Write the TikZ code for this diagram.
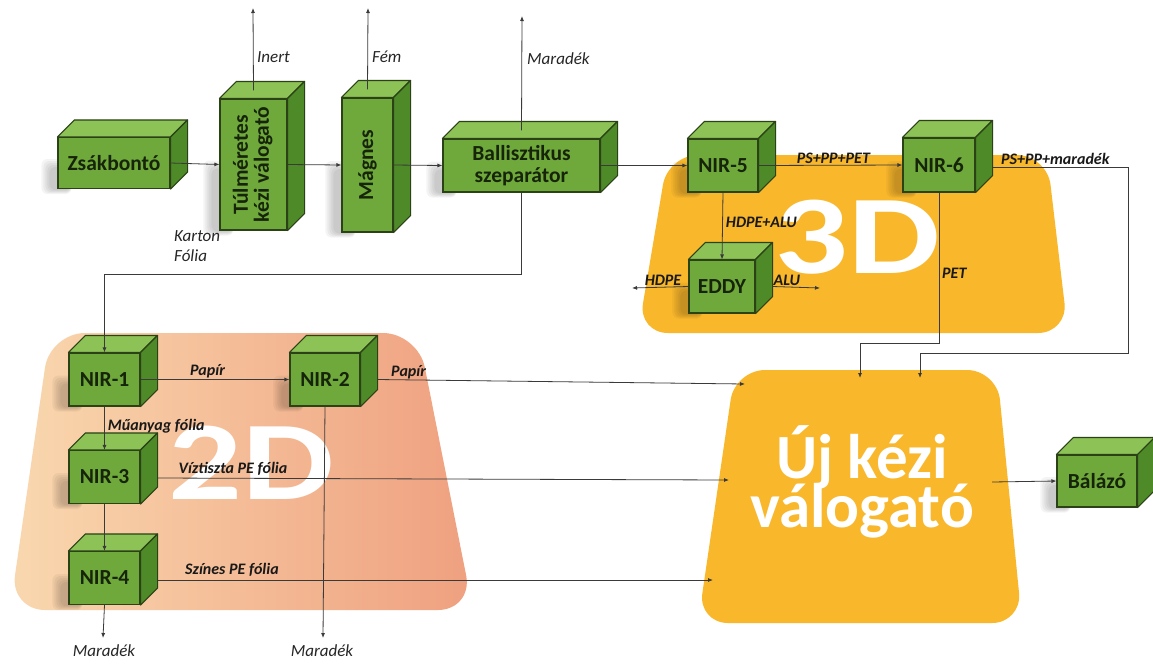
\documentclass[tikz,border=0pt]{standalone}
\usepackage{fontspec}
\setmainfont{Carlito}
\usetikzlibrary{arrows.meta,calc}
\definecolor{gfront}{HTML}{6FA93B}
\definecolor{gtop}{HTML}{8DC256}
\definecolor{gside}{HTML}{4E8A28}
\definecolor{gborder}{HTML}{2A4216}
\definecolor{gtext}{HTML}{16240A}
\definecolor{yel}{HTML}{F9B72C}
\definecolor{peachL}{HTML}{F9D8AF}
\definecolor{peachR}{HTML}{EFA07F}
\definecolor{linec}{HTML}{3A3A3A}
\pgfdeclarelayer{back}
\pgfdeclarelayer{mid}
\pgfsetlayers{back,mid,main}
\def\dd{17}
\tikzset{
  front/.style={draw=gborder, fill=gfront, line width=1.1pt, inner sep=0pt, align=center,
    font=\bfseries\fontsize{21.5}{24}\selectfont, text=gtext},
  topf/.style={draw=gborder, fill=gtop, line width=1.1pt, line join=round},
  sidef/.style={draw=gborder, fill=gside, line width=1.1pt, line join=round},
  conn/.style={draw=linec, line width=0.8pt},
  arr/.style={conn, -{Latex[length=5pt,width=4pt]}},
  lab/.style={font=\itshape\fontsize{17}{20}\selectfont, text=black!85, inner sep=1pt},
  blab/.style={font=\bfseries\itshape\fontsize{16}{18}\selectfont, text=black!90, inner sep=1pt},
  bigw/.style={text=white, font=\bfseries\fontsize{112}{112}\selectfont, inner sep=0pt},
  ujw/.style={text=white, font=\bfseries\fontsize{63}{50}\selectfont, inner sep=0pt}
}
\newcommand\greenbox[6]{%
  \node[front, minimum width=#4pt, minimum height=#5pt] (#1) at (#2,#3) {#6};
  \filldraw[topf] (#1.north west) -- ++(\dd,-\dd) -- ($(#1.north east)+(\dd,-\dd)$) -- (#1.north east) -- cycle;
  \filldraw[sidef] (#1.north east) -- ++(\dd,-\dd) -- ($(#1.south east)+(\dd,-\dd)$) -- (#1.south east) -- cycle;
  \begin{pgfonlayer}{mid}
    \foreach \k in {0,2,4,6,8}{
      \fill[black, opacity=0.045, rounded corners=6]
        ($(#1.west)+(-16+\k,-4+\k)$) rectangle ($(#1.south west)+(14,5-0.5*\k)$);
    }
  \end{pgfonlayer}
}
\begin{document}
\begin{tikzpicture}[x=1pt,y=-1pt]
\useasboundingbox (0,0) rectangle (1153,665);
\begin{pgfonlayer}{back}
\fill[white] (0,0) rectangle (1153,665);
% background regions
\fill[yel, rounded corners=30] (668,155) -- (1047,155) -- (1068,333) -- (638,333) -- cycle;
\shade[left color=peachL, right color=peachR, rounded corners=35] (50,333) -- (418,333) -- (473,610) -- (10,610) -- cycle;
\fill[yel, rounded corners=30] (735,370) -- (997,370) -- (1022,623) -- (698,623) -- cycle;
% big white texts
\node[bigw] (t3d) at (857,237) {\scalebox{1.3}[1]{3D}};
\node[bigw] (t2d) at (251,463) {\scalebox{1.3}[1]{2D}};
\node[ujw, anchor=base] (uj1) at (862,478) {Új kézi};
\node[ujw, anchor=base] (uj2) at (862,527) {válogató};
\end{pgfonlayer}
% coordinates on the Új kézi válogató region
\coordinate (ujpap) at (745,384);
\coordinate (ujviz) at (729,480);
\coordinate (ujszin) at (713,580);
\coordinate (ujpet) at (860,378);
\coordinate (ujmar) at (920,378);
\coordinate (ujout) at (992,482);
% free ends
\coordinate (inertend) at (253,8);
\coordinate (femend) at (368,8);
\coordinate (marend) at (522,16);
\coordinate (hdpeend) at (632,288);
\coordinate (aluend) at (820,288);
\coordinate (mar1end) at (103,638);
\coordinate (mar2end) at (323,638);
% boxes
\greenbox{zsak}{114}{163}{112}{51}{Zsákbontó}
\greenbox{tul}{253.5}{164.5}{67}{131}{\rotatebox{90}{\begin{tabular}{@{}c@{}}Túlméretes\\[-3pt]kézi válogató\end{tabular}}}
\greenbox{mag}{367.5}{165}{51}{134}{\rotatebox{90}{Mágnes}}
\greenbox{ball}{521.5}{165.5}{157}{53}{Ballisztikus\\[-2pt]szeparátor}
\greenbox{nir5}{723}{165.5}{70}{53}{NIR-5}
\greenbox{nir6}{939}{165}{72}{54}{NIR-6}
\greenbox{eddy}{722}{286.5}{66}{53}{EDDY}
\greenbox{nir1}{104.5}{379.5}{71}{53}{NIR-1}
\greenbox{nir2}{325}{379.5}{70}{53}{NIR-2}
\greenbox{nir3}{104.5}{477}{71}{53}{NIR-3}
\greenbox{nir4}{104.5}{578}{71}{53}{NIR-4}
\greenbox{bal}{1097}{481}{80}{52}{Bálázó}
% top row connectors
\draw[arr] (zsak.east) -- (tul.west);
\draw[arr] (tul.east) -- (mag.west);
\draw[arr] (mag.east) -- (ball.west);
\draw[arr] (ball.east) -- (nir5.west);
\draw[arr] (nir5.east) -- node[blab, above, pos=0.52] {PS+PP+PET} (nir6.west);
\draw[arr] ($(tul.north)+(0,-8)$) -- (inertend);
\node[lab, anchor=west] (inert) at (256,57) {Inert};
\draw[arr] ($(mag.north)+(0,-8)$) -- (femend);
\node[lab, anchor=west] (fem) at (371,57) {Fém};
\draw[arr] ($(ball.north)+(0,-8)$) -- (marend);
\node[lab, anchor=west] (mar0) at (526,59) {Maradék};
\draw[arr] (ball.south) -- ++(0,82) -| (nir1.north);
\node[lab, anchor=north west, align=left] (karton) at (173,229) {Karton\\Fólia};
% 3D connectors
\draw[arr] (nir5.south) -- node[blab, right=2pt, pos=0.45] {HDPE+ALU} (eddy.north);
\draw[arr] (eddy.west) -- node[blab, above, pos=0.45] {HDPE} (hdpeend);
\draw[arr] ($(eddy.east)+(\dd,0)$) -- node[blab, above, pos=0.3] {ALU} (aluend);
\draw[arr] ($(nir6.east)+(\dd,2)$) -- (1128,167) -- (1128,353) -| (ujmar);
\node[blab, anchor=south west] (psmar) at (1000,166) {PS+PP+maradék};
\draw[arr] (nir6.south) -- (939,343) -| (ujpet);
\node[blab, anchor=west] (pet) at (941,273) {PET};
% 2D connectors
\draw[arr] (nir1.east) -- node[blab, above, pos=0.45] {Papír} (nir2.west);
\draw[arr] ($(nir2.east)+(\dd,0)$) -- (ujpap);
\node[blab, anchor=south west] (pap2) at (390,380) {Papír};
\draw[arr] (nir1.south) -- node[blab, right=2pt, pos=0.45] {Műanyag fólia} (nir3.north);
\draw[arr] (nir3.south) -- (nir4.north);
\draw[arr] ($(nir3.east)+(\dd,1)$) -- (ujviz);
\node[blab, anchor=south] (viz) at (233,477) {Víztiszta PE fólia};
\draw[arr] ($(nir4.east)+(\dd,2)$) -- (ujszin);
\node[blab, anchor=south] (szin) at (232,578) {Színes PE fólia};
\draw[arr] (nir4.south) -- (mar1end);
\node[lab, anchor=north] (mar1) at (104,643) {Maradék};
\draw[arr] (nir2.south) -- (mar2end);
\node[lab, anchor=north] (mar2) at (322,643) {Maradék};
\draw[arr] (ujout) -- (bal.west);
\end{tikzpicture}
\end{document}
